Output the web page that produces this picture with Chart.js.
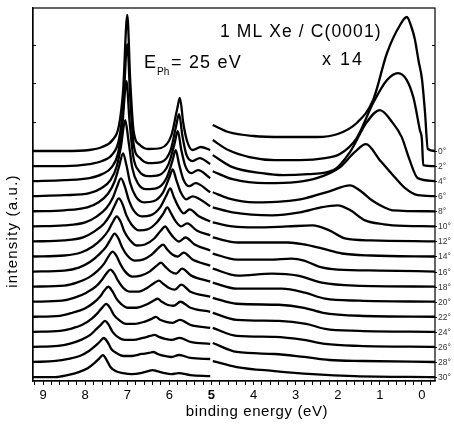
<!DOCTYPE html>
<html>
<head>
<meta charset="utf-8">
<script src="https://cdn.jsdelivr.net/npm/chart.js@4.4.1/dist/chart.umd.min.js"></script>
<style>
  html, body { margin: 0; background: #fff; }
  #wrap { width: 454px; height: 424px; }
</style>
</head>
<body>
<div id="wrap"><canvas id="c" width="454" height="424"></canvas></div>
<script>
// Xe 5p + valence spectra, emission angles 0..30 deg. Points are [binding energy eV, intensity]
// null marks the axis break at 5 eV (right part is x14).
const ANGLES = [0, 2, 4, 6, 8, 10, 12, 14, 16, 18, 20, 22, 24, 26, 28, 30];
const OFFSET_TOP = 230;   // baseline of the 0 deg spectrum
const OFFSET_STEP = 15.07; // waterfall offset between spectra

const S00 = [[9.25,0],[8.5,0],[7.9,1],[7.6,4],[7.35,11],[7.2,25],[7.1,60],[7.0,136],[6.93,70],[6.85,20],[6.7,6],[6.5,2],[6.2,3],[5.95,16],[5.82,41],[5.75,53],[5.67,28],[5.58,10],[5.45,1],[5.25,4],[5.03,1],
  null,[4.97,26],[4.6,19],[4.0,15],[3.3,14],[2.5,14],[2.0,17],[1.55,28],[1.16,51],[0.83,98],[0.52,126],[0.36,134],[0.25,124],[0.17,112],[0.08,90],[0,72],[-0.07,40],[-0.14,2],[-0.31,0]];
const S02 = [[9.25,0],[8.5,0],[7.9,2],[7.6,5],[7.35,12],[7.2,26],[7.1,58],[7.0,122],[6.93,68],[6.85,22],[6.7,8],[6.5,3],[6.2,4],[5.97,16],[5.85,38],[5.77,52],[5.69,30],[5.6,12],[5.45,5],[5.28,8],[5.03,2],
  null,[4.97,26],[4.6,16],[4.1,9],[3.5,6],[2.9,6],[2.3,8],[1.95,12],[1.55,28],[1.16,63],[0.83,86],[0.57,93],[0.36,86],[0.2,68],[0.05,36],[0,26],[-0.03,1],[-0.31,0]];
const S04 = [[9.25,0],[8.5,1],[7.9,3],[7.6,7],[7.37,14],[7.22,28],[7.12,55],[7.02,100],[6.95,62],[6.86,25],[6.72,10],[6.5,5],[6.25,6],[6.02,17],[5.88,37],[5.8,50],[5.72,32],[5.62,15],[5.48,8],[5.32,11],[5.03,3],
  null,[4.97,26],[4.5,14],[3.8,8],[3.3,6],[2.7,7],[2.1,11],[1.71,29],[1.31,59],[1.0,71],[0.69,58],[0.48,44],[0.3,22],[0.1,3],[-0.31,0]];
const S06 = [[9.25,0],[8.5,1],[7.9,3],[7.62,8],[7.4,16],[7.25,30],[7.15,50],[7.05,76],[6.97,55],[6.88,28],[6.75,13],[6.55,7],[6.3,8],[6.07,18],[5.93,35],[5.85,46],[5.77,32],[5.67,17],[5.53,10],[5.38,13],[5.03,4],
  null,[4.97,25],[4.5,17],[3.7,13],[3.0,14],[2.5,18],[1.95,29],[1.6,44],[1.33,52],[1.0,36],[0.71,22],[0.4,8],[0.1,1],[-0.31,0]];
const S08 = [[9.25,0],[8.5,1],[7.95,4],[7.68,9],[7.45,18],[7.3,30],[7.2,44],[7.1,58],[7.02,46],[6.93,28],[6.8,15],[6.6,9],[6.38,10],[6.15,19],[6.0,34],[5.92,42],[5.84,32],[5.73,19],[5.6,12],[5.45,15],[5.03,5],
  null,[4.97,19],[4.6,13],[3.97,9],[3.3,10],[2.78,13],[2.2,20],[1.71,26],[1.45,20],[1.19,11],[0.9,4],[0.7,1],[-0.31,0]];
const S10 = [[9.25,0],[8.5,1],[8.0,4],[7.72,10],[7.5,18],[7.35,28],[7.25,39],[7.15,48],[7.06,40],[6.97,27],[6.85,16],[6.65,10],[6.45,11],[6.22,19],[6.07,31],[5.98,38],[5.9,30],[5.79,20],[5.66,13],[5.52,17],[5.3,10],[5.03,5],
  null,[4.97,19],[4.5,14],[3.56,11],[2.9,14],[2.4,19],[2.0,21],[1.7,16],[1.35,6],[0.9,2],[0.7,1],[-0.31,0]];
const S12 = [[9.25,0],[8.5,1],[8.05,4],[7.78,10],[7.55,18],[7.4,27],[7.3,36],[7.2,43],[7.11,37],[7.02,26],[6.9,17],[6.72,11],[6.52,12],[6.3,19],[6.14,28],[6.05,34],[5.96,28],[5.85,20],[5.72,15],[5.58,18],[5.35,11],[5.03,6],
  null,[4.97,19],[4.5,15],[3.97,14],[3.2,15],[2.6,16],[2.2,11],[1.83,3],[1.2,1],[-0.31,0]];
const S14 = [[9.25,0],[8.5,1],[8.1,4],[7.82,10],[7.6,18],[7.45,26],[7.35,34],[7.25,40],[7.16,35],[7.07,25],[6.95,17],[6.78,11],[6.58,12],[6.36,18],[6.2,26],[6.1,30],[6.01,25],[5.9,19],[5.77,15],[5.62,19],[5.4,12],[5.03,6],
  null,[4.97,19],[4.37,14],[3.18,14],[2.8,12],[2.38,8],[1.9,3],[1.2,1],[-0.31,0]];
const S16 = [[9.25,0],[8.5,1],[8.15,4],[7.87,10],[7.65,18],[7.5,25],[7.4,32],[7.3,38],[7.21,33],[7.12,24],[7.0,16],[6.83,11],[6.63,12],[6.42,17],[6.25,24],[6.15,27],[6.05,22],[5.93,17],[5.8,15],[5.66,19],[5.45,12],[5.03,6],
  null,[4.97,18],[4.4,12],[3.6,12],[3.1,13],[2.8,11],[2.45,5],[2.0,2],[1.0,1],[-0.31,0]];
const S18 = [[9.25,0],[8.5,1],[8.2,4],[7.92,9],[7.7,16],[7.55,23],[7.45,30],[7.35,35],[7.26,31],[7.17,23],[7.05,15],[6.88,10],[6.68,11],[6.47,15],[6.3,21],[6.2,24],[6.1,20],[5.97,15],[5.84,13],[5.7,18],[5.48,11],[5.03,5],
  null,[4.97,18],[4.37,11],[3.56,13],[2.95,11],[2.38,4],[1.6,1],[-0.31,0]];
const S20 = [[9.25,0],[8.55,1],[8.25,4],[7.97,9],[7.75,15],[7.6,22],[7.5,28],[7.4,32],[7.31,28],[7.22,21],[7.1,14],[6.93,10],[6.73,10],[6.52,14],[6.35,19],[6.25,21],[6.15,18],[6.02,14],[5.87,12],[5.72,17],[5.5,10],[5.03,5],
  null,[4.97,19],[4.4,13],[3.33,13],[2.78,9],[2.3,3],[1.5,1],[-0.31,0]];
const S22 = [[9.25,0],[8.6,1],[8.3,4],[8.02,8],[7.8,14],[7.65,20],[7.55,26],[7.45,30],[7.36,26],[7.27,19],[7.15,13],[6.98,9],[6.78,9],[6.56,12],[6.38,16],[6.28,18],[6.18,15],[6.05,12],[5.9,11],[5.74,15],[5.5,9],[5.03,5],
  null,[4.97,19],[4.4,13],[3.4,12],[2.8,9],[2.35,4],[1.5,1],[-0.31,0]];
const S24 = [[9.25,0],[8.6,1],[8.35,3],[8.07,7],[7.85,13],[7.7,19],[7.6,24],[7.5,28],[7.41,24],[7.32,17],[7.2,12],[7.03,8],[6.83,8],[6.6,10],[6.42,13],[6.32,15],[6.22,12],[6.08,10],[5.92,9],[5.75,12],[5.5,7],[5.03,4],
  null,[4.97,19],[4.4,12],[3.4,11],[2.75,8],[2.3,3],[1.5,1],[-0.31,0]];
const S26 = [[9.25,0],[8.65,1],[8.38,3],[8.1,7],[7.88,12],[7.73,18],[7.63,22],[7.53,26],[7.44,22],[7.35,15],[7.23,10],[7.06,7],[6.86,7],[6.63,9],[6.45,11],[6.35,12],[6.25,10],[6.1,8],[5.94,7],[5.76,9],[5.5,5],[5.03,3],
  null,[4.97,19],[4.4,11],[3.5,10],[2.8,7],[2.3,3],[1.5,1],[-0.31,0]];
const S28 = [[9.25,0],[8.7,1],[8.4,3],[8.13,6],[7.91,11],[7.76,16],[7.66,20],[7.56,24],[7.47,20],[7.38,13],[7.26,9],[7.09,6],[6.89,6],[6.66,8],[6.48,9],[6.38,10],[6.28,8],[6.12,6],[5.95,5],[5.77,7],[5.5,4],[5.03,3],
  null,[4.97,19],[4.4,10],[3.5,8],[2.8,5],[2.2,2],[1.4,1],[-0.31,0]];
const S30 = [[9.25,0],[8.7,0],[8.42,2],[8.15,5],[7.93,9],[7.78,14],[7.68,18],[7.58,22],[7.49,17],[7.4,10],[7.28,6],[7.1,4],[6.9,3],[6.68,4],[6.5,6],[6.4,7],[6.3,6],[6.12,4],[5.95,3],[5.78,4],[5.5,2],[5.03,1],
  null,[4.97,16],[4.4,10],[3.5,6],[2.6,3],[1.6,1],[-0.31,0]];
const SPECTRA = [S00,S02,S04,S06,S08,S10,S12,S14,S16,S18,S20,S22,S24,S26,S28,S30];

const X_MIN = -0.31, X_MAX = 9.24;
const X_TICK_STEP = 0.2;
const Y_MAX = 373;
const FRAME_TICKS = [259, 298, 336];

const FONT = '"Liberation Sans", Arial, sans-serif';

const baseOf = i => OFFSET_TOP - OFFSET_STEP * i;

const datasets = SPECTRA.map((s, i) => ({
  label: ANGLES[i] + '°',
  data: s.map(p => p ? { x: p[0], y: baseOf(i) + p[1] } : { x: 5.0, y: null }),
  borderColor: '#000',
  borderWidth: 2.3,
  pointRadius: 0,
  cubicInterpolationMode: 'monotone',
  spanGaps: false,
  fill: false
}));

function text(ctx, str, x, y, size, opts) {
  opts = opts || {};
  ctx.save();
  ctx.font = (opts.weight || '') + ' ' + size + 'px ' + FONT;
  ctx.fillStyle = opts.color || '#000';
  ctx.textAlign = opts.align || 'left';
  ctx.textBaseline = opts.baseline || 'alphabetic';
  if (opts.spacing) ctx.letterSpacing = opts.spacing + 'px';
  if (opts.rotate) { ctx.translate(x, y); ctx.rotate(opts.rotate); ctx.fillText(str, 0, 0); }
  else ctx.fillText(str, x, y);
  ctx.restore();
}

const decor = {
  id: 'decor',
  afterDraw(chart) {
    const { ctx, chartArea: a, scales: { x, y } } = chart;
    ctx.save();
    ctx.strokeStyle = '#000';
    ctx.lineWidth = 1.2;
    ctx.strokeRect(a.left, a.top, a.right - a.left, a.bottom - a.top);
    // inner ticks on the frame
    ctx.lineWidth = 1;
    ctx.beginPath();
    FRAME_TICKS.forEach(v => {
      const py = Math.round(y.getPixelForValue(v)) + 0.5;
      ctx.moveTo(a.left, py); ctx.lineTo(a.left + 3, py);
      ctx.moveTo(a.right, py); ctx.lineTo(a.right - 3, py);
    });
    ANGLES.forEach((ang, i) => {
      const py = Math.round(y.getPixelForValue(baseOf(i))) + 0.5;
      ctx.moveTo(a.right, py); ctx.lineTo(a.right + 2, py);
    });
    ctx.stroke();
    ctx.restore();

    ANGLES.forEach((ang, i) => {
      const py = y.getPixelForValue(baseOf(i));
      text(ctx, ang + '°', a.right + 3, py + 3, 8.5, { color: '#333' });
    });

    text(ctx, 'intensity (a.u.)', 13, 231, 15, { rotate: -Math.PI / 2, align: 'center', baseline: 'middle', spacing: 1.2 });
    text(ctx, 'binding energy (eV)', 257, 416, 15, { align: 'center', spacing: 0.6 });
    text(ctx, '1 ML Xe / C(0001)', 220, 37, 17.5, { spacing: 1.1 });
    text(ctx, 'E', 144, 68, 18);
    text(ctx, 'Ph', 157, 75, 10);
    text(ctx, '= 25 eV', 171, 68, 18, { spacing: 1.2 });
    text(ctx, 'x 14', 322, 65, 18, { spacing: 2 });
  }
};

const isFive = c => !!(c && c.tick && Math.abs(c.tick.value - 5) < 1e-6);

new Chart(document.getElementById('c'), {
  type: 'line',
  data: { datasets },
  options: {
    responsive: false,
    animation: false,
    devicePixelRatio: 1,
    layout: { padding: { left: 0, right: 19, top: 8, bottom: 0 } },
    plugins: { legend: { display: false }, tooltip: { enabled: false } },
    scales: {
      x: {
        type: 'linear',
        reverse: true,
        min: X_MIN,
        max: X_MAX,
        afterFit: s => { s.height = 43; },
        border: { display: true, color: '#000', width: 1.2 },
        grid: { drawOnChartArea: false, tickLength: 4, color: '#000', lineWidth: 1 },
        ticks: {
          stepSize: X_TICK_STEP,
          includeBounds: false,
          autoSkip: false,
          maxRotation: 0,
          maxTicksLimit: 1000,
          padding: 3,
          color: '#000',
          font: c => ({ family: FONT, size: 13, weight: isFive(c) ? 'bold' : 'normal' }),
          callback: v => Math.abs(v - Math.round(v)) < 1e-6 ? String(Math.round(v)) : ''
        }
      },
      y: {
        type: 'linear',
        min: 0,
        max: Y_MAX,
        afterFit: s => { s.width = 33; },
        border: { display: true, color: '#000', width: 1.2 },
        grid: { display: false },
        ticks: { display: false }
      }
    }
  },
  plugins: [decor]
});
</script>
</body>
</html>
